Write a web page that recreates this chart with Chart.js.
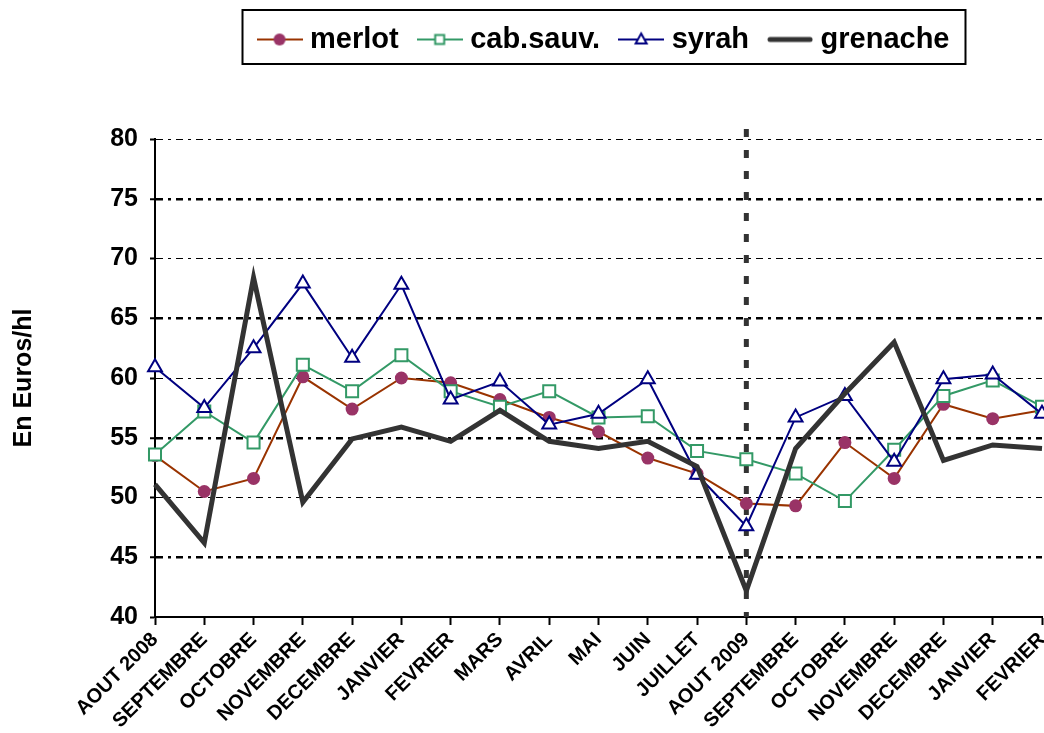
<!DOCTYPE html>
<html>
<head>
<meta charset="utf-8">
<script src="https://cdn.jsdelivr.net/npm/chart.js@4.4.1/dist/chart.umd.min.js"></script>
<style>
  body { margin: 0; background: #fff; }
  #wrap { width: 1044px; height: 733px; }
</style>
</head>
<body>
<div id="wrap"><canvas id="myChart"></canvas></div>
<script>
// mois (categories)
const months = ['AOUT 2008', 'SEPTEMBRE', 'OCTOBRE', 'NOVEMBRE', 'DECEMBRE', 'JANVIER', 'FEVRIER',
  'MARS', 'AVRIL', 'MAI', 'JUIN', 'JUILLET', 'AOUT 2009', 'SEPTEMBRE', 'OCTOBRE', 'NOVEMBRE',
  'DECEMBRE', 'JANVIER', 'FEVRIER'];

// prix en euros/hl
const merlot = [53.5, 50.5, 51.6, 60.1, 57.4, 60.0, 59.6, 58.2, 56.7, 55.5, 53.3, 52.0, 49.5, 49.3, 54.6, 51.6, 57.8, 56.6, 57.3];
const cabSauv = [53.6, 57.2, 54.6, 61.1, 58.9, 61.9, 58.9, 57.6, 58.9, 56.7, 56.8, 53.9, 53.2, 52.0, 49.7, 54.0, 58.5, 59.8, 57.6];
const syrah = [60.9, 57.5, 62.5, 67.9, 61.7, 67.8, 58.2, 59.7, 56.1, 57.0, 59.9, 51.9, 47.6, 56.7, 58.5, 53.0, 59.9, 60.3, 57.0];
const grenache = [51.1, 46.2, 68.4, 49.6, 54.9, 55.9, 54.7, 57.3, 54.7, 54.1, 54.7, 52.6, 42.2, 54.1, 58.7, 63.0, 53.1, 54.4, 54.1];

const yTicks = [40, 45, 50, 55, 60, 65, 70, 75, 80];
const splitMonth = 'AOUT 2009';

const FONT = "'Liberation Sans', Arial, sans-serif";

// petite icone pour la legende (ligne + marqueur)
function legendIcon(color, lineW, marker, markerColor) {
  const c = document.createElement('canvas');
  c.width = 46;
  c.height = 20;
  const g = c.getContext('2d');
  g.strokeStyle = color;
  g.lineWidth = lineW;
  g.lineCap = marker ? 'butt' : 'round';
  g.beginPath();
  g.moveTo(marker ? 0 : 3, 10);
  g.lineTo(marker ? 46 : 43, 10);
  g.stroke();
  g.lineWidth = 2;
  if (marker === 'circle') {
    g.fillStyle = markerColor;
    g.beginPath();
    g.arc(23, 10, 6, 0, Math.PI * 2);
    g.fill();
  } else if (marker === 'rect') {
    g.fillStyle = '#fff';
    g.strokeStyle = markerColor;
    g.fillRect(18.5, 5.5, 9, 9);
    g.strokeRect(18.5, 5.5, 9, 9);
  } else if (marker === 'triangle') {
    g.fillStyle = '#fff';
    g.strokeStyle = markerColor;
    g.beginPath();
    g.moveTo(23, 4);
    g.lineTo(28.5, 14);
    g.lineTo(17.5, 14);
    g.closePath();
    g.fill();
    g.stroke();
  }
  return c;
}

const icons = [
  legendIcon('#993300', 2, 'circle', '#993366'),
  legendIcon('#339966', 2, 'rect', '#339966'),
  legendIcon('#000080', 2, 'triangle', '#000080'),
  legendIcon('#333333', 5, null, null)
];

// legende plus haute + cadre autour
const legendBox = {
  id: 'legendBox',
  beforeInit(chart) {
    const origFit = chart.legend.fit;
    chart.legend.fit = function () {
      origFit.bind(chart.legend)();
      this.height = 139;
    };
  },
  afterLayout(chart) {
    chart.legend.left = 169;
    chart.legend.right = 1044;
  },
  afterDraw(chart) {
    const boxes = chart.legend.legendHitBoxes;
    if (!boxes || !boxes.length) return;
    const first = boxes[0];
    const last = boxes[boxes.length - 1];
    const ctx = chart.ctx;
    ctx.save();
    ctx.strokeStyle = '#000';
    ctx.lineWidth = 2;
    ctx.strokeRect(first.left - 21, 10, last.left + last.width + 16 - (first.left - 21), 54);
    ctx.restore();
  }
};

// ligne verticale en pointilles a aout 2009
const splitLine = {
  id: 'splitLine',
  beforeDatasetsDraw(chart) {
    const x = chart.scales.x.getPixelForValue(months.indexOf(splitMonth));
    const area = chart.chartArea;
    const ctx = chart.ctx;
    ctx.save();
    ctx.strokeStyle = '#333333';
    ctx.lineWidth = 5;
    ctx.setLineDash([8, 13]);
    ctx.beginPath();
    ctx.moveTo(x, area.top - 10);
    ctx.lineTo(x, area.bottom);
    ctx.stroke();
    ctx.restore();
  }
};

const data = {
  labels: months,
  datasets: [{
    label: 'merlot',
    data: merlot,
    borderColor: '#993300',
    borderWidth: 2,
    pointStyle: 'circle',
    pointRadius: 6.5,
    pointBackgroundColor: '#993366',
    pointBorderColor: '#993366',
    pointBorderWidth: 0,
    order: 4
  }, {
    label: 'cab.sauv.',
    data: cabSauv,
    borderColor: '#339966',
    borderWidth: 2,
    pointStyle: 'rect',
    pointRadius: 8.5,
    pointBackgroundColor: '#fff',
    pointBorderColor: '#339966',
    pointBorderWidth: 2,
    order: 3
  }, {
    label: 'syrah',
    data: syrah,
    borderColor: '#000080',
    borderWidth: 2,
    pointStyle: 'triangle',
    pointRadius: 8,
    pointBackgroundColor: '#fff',
    pointBorderColor: '#000080',
    pointBorderWidth: 2,
    order: 2
  }, {
    label: 'grenache',
    data: grenache,
    borderColor: '#333333',
    borderWidth: 5,
    pointRadius: 0,
    order: 1
  }]
};

const config = {
  type: 'line',
  data: data,
  options: {
    responsive: true,
    maintainAspectRatio: false,
    animation: false,
    devicePixelRatio: 1,
    layout: { padding: 0, autoPadding: false },
    datasets: { line: { tension: 0, fill: false, clip: false } },
    plugins: {
      tooltip: { enabled: false },
      legend: {
        display: true,
        position: 'top',
        labels: {
          usePointStyle: true,
          pointStyleWidth: 32,
          padding: 25,
          color: '#000',
          font: { family: FONT, size: 29, weight: 'bold' },
          generateLabels(chart) {
            return chart.data.datasets.map((ds, i) => ({
              text: ds.label,
              pointStyle: icons[i],
              fillStyle: ds.borderColor,
              strokeStyle: ds.borderColor,
              lineWidth: 0,
              hidden: false,
              datasetIndex: i
            }));
          }
        }
      }
    },
    scales: {
      x: {
        type: 'category',
        offset: false,
        afterFit(scale) {
          scale.height = 116;
          scale.paddingRight = 2;
        },
        grid: {
          display: true,
          drawOnChartArea: false,
          drawTicks: true,
          tickLength: 8,
          tickColor: '#000',
          tickWidth: 2
        },
        border: { display: true, color: '#000', width: 2 },
        ticks: {
          autoSkip: false,
          minRotation: 45,
          maxRotation: 45,
          padding: 3,
          color: '#000',
          font: { family: FONT, size: 20, weight: 'bold' }
        }
      },
      y: {
        min: 40,
        max: 80,
        afterFit(scale) {
          scale.width = 155;
        },
        afterBuildTicks(scale) {
          scale.ticks = yTicks.map(v => ({ value: v }));
        },
        title: {
          display: true,
          text: 'En Euros/hl',
          color: '#000',
          padding: { top: 9, bottom: 0 },
          font: { family: FONT, size: 25, weight: 'bold' }
        },
        grid: {
          color: '#000',
          lineWidth(ctx) {
            return ctx.tick && ctx.tick.value % 10 === 0 ? 1 : 2.5;
          },
          drawTicks: true,
          tickLength: 5,
          tickColor: '#000',
          tickWidth: 2
        },
        border: { display: true, color: '#000', width: 2, dash: [7, 5, 3, 5] },
        ticks: {
          padding: 12,
          color: '#000',
          font: { family: FONT, size: 25, weight: 'bold' }
        }
      }
    }
  },
  plugins: [legendBox, splitLine]
};

const chartElement = document.getElementById('myChart');
const myChart = new Chart(chartElement, config);
</script>
</body>
</html>
